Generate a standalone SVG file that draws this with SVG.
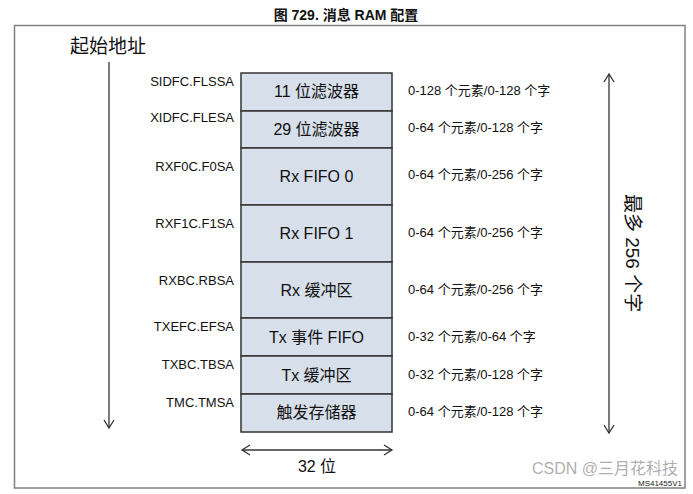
<svg xmlns="http://www.w3.org/2000/svg" width="693" height="494" viewBox="0 0 693 494">
<defs>
<marker id="ah" markerWidth="12" markerHeight="12" refX="10" refY="6" orient="auto-start-reverse" markerUnits="userSpaceOnUse">
<path d="M2,1 L10,6 L2,11" fill="none" stroke="#333" stroke-width="1.3"/>
</marker>
<style>
.lbl{font-family:"Liberation Sans","Noto Sans CJK SC",sans-serif;font-size:13px;fill:#111;text-anchor:end}
.sz{font-family:"Liberation Sans","Noto Sans CJK SC",sans-serif;font-size:13px;fill:#111}
.row{fill:#d6dfea;stroke:#333;stroke-width:1.5}
.rt{font-family:"Liberation Sans","Noto Sans CJK SC",sans-serif;font-size:16px;fill:#111;text-anchor:middle}
.ln{stroke:#333;stroke-width:1.3;fill:none}
</style>
</defs>
<rect width="693" height="494" fill="#fff"/>
<text x="346" y="20" text-anchor="middle" font-family="Liberation Sans,'Noto Sans CJK SC',sans-serif" font-size="14" font-weight="bold" fill="#111">图 729. 消息 RAM 配置</text>
<rect x="14.5" y="25.5" width="670.5" height="462.5" fill="none" stroke="#808080" stroke-width="1.5"/>
<text x="108" y="53" text-anchor="middle" font-family="'Noto Sans CJK SC',sans-serif" font-size="19" fill="#111">起始地址</text>

<g id="connectors">
<line class="ln" x1="109" y1="62" x2="109" y2="428" marker-end="url(#ah)"/>
<line class="ln" x1="609" y1="74" x2="609" y2="433" marker-start="url(#ah)" marker-end="url(#ah)"/>
<line class="ln" x1="242" y1="450" x2="392" y2="450" marker-start="url(#ah)" marker-end="url(#ah)"/>
</g>

<g id="n1"><rect class="row" x="241" y="73" width="151" height="38"/><text class="rt" x="316.5" y="97">11 位滤波器</text><text class="lbl" x="234" y="86">SIDFC.FLSSA</text><text class="sz" x="408" y="95">0-128 个元素/0-128 个字</text></g>
<g id="n2"><rect class="row" x="241" y="111" width="151" height="37"/><text class="rt" x="316.5" y="135">29 位滤波器</text><text class="lbl" x="234" y="122">XIDFC.FLESA</text><text class="sz" x="408" y="132">0-64 个元素/0-128 个字</text></g>
<g id="n3"><rect class="row" x="241" y="148" width="151" height="57"/><text class="rt" x="316.5" y="182">Rx FIFO 0</text><text class="lbl" x="234" y="171">RXF0C.F0SA</text><text class="sz" x="408" y="179">0-64 个元素/0-256 个字</text></g>
<g id="n4"><rect class="row" x="241" y="205" width="151" height="57"/><text class="rt" x="316.5" y="239">Rx FIFO 1</text><text class="lbl" x="234" y="228">RXF1C.F1SA</text><text class="sz" x="408" y="237">0-64 个元素/0-256 个字</text></g>
<g id="n5"><rect class="row" x="241" y="262" width="151" height="56"/><text class="rt" x="316.5" y="296">Rx 缓冲区</text><text class="lbl" x="234" y="285">RXBC.RBSA</text><text class="sz" x="408" y="294">0-64 个元素/0-256 个字</text></g>
<g id="n6"><rect class="row" x="241" y="318" width="151" height="38"/><text class="rt" x="316.5" y="343">Tx 事件 FIFO</text><text class="lbl" x="234" y="331">TXEFC.EFSA</text><text class="sz" x="408" y="341">0-32 个元素/0-64 个字</text></g>
<g id="n7"><rect class="row" x="241" y="356" width="151" height="38"/><text class="rt" x="316.5" y="381">Tx 缓冲区</text><text class="lbl" x="234" y="369">TXBC.TBSA</text><text class="sz" x="408" y="379">0-32 个元素/0-128 个字</text></g>
<g id="n8"><rect class="row" x="241" y="394" width="151" height="38"/><text class="rt" x="316.5" y="418">触发存储器</text><text class="lbl" x="234" y="407">TMC.TMSA</text><text class="sz" x="408" y="416">0-64 个元素/0-128 个字</text></g>

<text x="317" y="472" text-anchor="middle" font-family="Liberation Sans,'Noto Sans CJK SC',sans-serif" font-size="16" fill="#111">32 位</text>
<text transform="translate(626,253) rotate(90)" text-anchor="middle" font-family="Liberation Sans,'Noto Sans CJK SC',sans-serif" font-size="19" fill="#111">最多 256 个字</text>

<text x="682" y="486" text-anchor="end" font-family="Liberation Sans,sans-serif" font-size="8" fill="#222">MS41455V1</text>
<text x="678" y="474" text-anchor="end" font-family="Liberation Sans,'Noto Sans CJK SC',sans-serif" font-size="16" fill="#999" fill-opacity="0.8">CSDN @三月花科技</text>
</svg>
